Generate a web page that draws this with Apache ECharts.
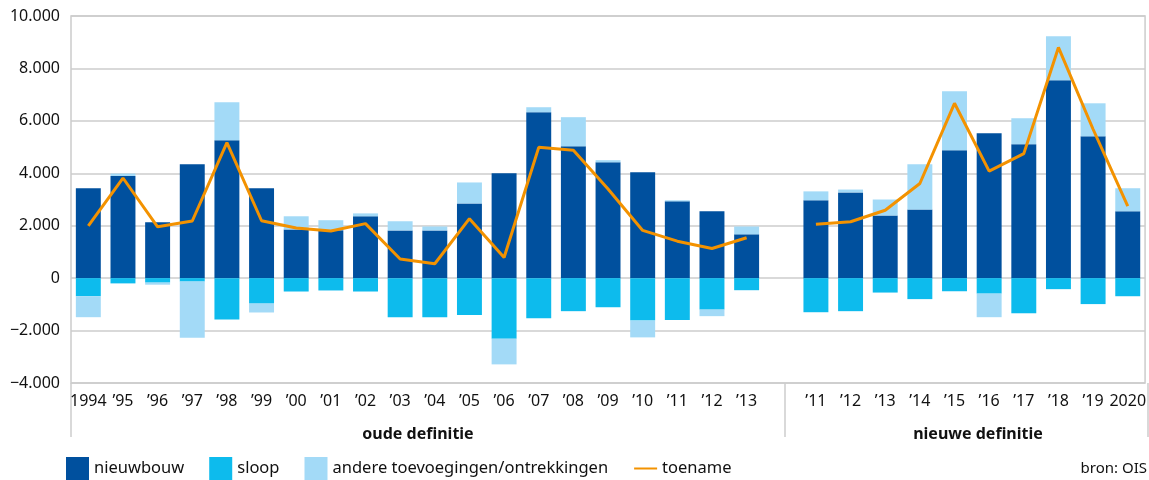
<!DOCTYPE html>
<html>
<head>
<meta charset="utf-8">
<script src="https://cdn.jsdelivr.net/npm/echarts@6/dist/echarts.min.js"></script>
<style>
  html, body { margin: 0; padding: 0; background: #fff; }
  #woningvoorraad { width: 1149px; height: 480px; }
</style>
</head>
<body>
<div id="woningvoorraad"></div>
<script>
  // jaren, met een lege categorie tussen oude en nieuwe definitie
  var jaren = ['1994', '’95', '’96', '’97', '’98', '’99', '’00', '’01', '’02', '’03', '’04', '’05', '’06', '’07', '’08', '’09', '’10', '’11', '’12', '’13',
    '',
    '’11', '’12', '’13', '’14', '’15', '’16', '’17', '’18', '’19', '2020']
  var nieuwbouw = [3430, 3900, 2130, 4340, 5260, 3430, 1860, 1830, 2360, 1820, 1820, 2850, 4000, 6330, 5030, 4420, 4040, 2930, 2550, 1670,
    null,
    2970, 3270, 2390, 2620, 4880, 5530, 5110, 7550, 5410, 2550]
  var sloop = [-690, -200, -170, -130, -1580, -970, -510, -470, -510, -1490, -1490, -1410, -2310, -1530, -1260, -1110, -1620, -1600, -1200, -460,
    null,
    -1300, -1260, -550, -800, -500, -590, -1340, -420, -990, -690]
  var andere = [-800, 90, -80, -2140, 1450, -340, 500, 380, 110, 350, 150, 800, -980, 190, 1110, 80, -640, 40, -250, 300,
    null,
    340, 110, 610, 1720, 2250, -900, 990, 1680, 1260, 880]
  var toename = [1990, 3820, 1960, 2180, 5170, 2190, 1910, 1800, 2080, 730, 550, 2270, 790, 4990, 4880, 3400, 1820, 1410, 1130, 1540,
    null,
    2060, 2150, 2590, 3610, 6670, 4080, 4750, 8800, 5680, 2750]

  var font = 'Noto Sans'
  var grijs = '#cccccc'

  function getal (v) {
    var s = String(Math.abs(v)).replace(/\B(?=(\d{3})+(?!\d))/g, '.')
    return v < 0 ? '−' + s : s
  }

  var chart = echarts.init(document.getElementById('woningvoorraad'))
  chart.setOption({
    animation: false,
    textStyle: { fontFamily: font },
    grid: {
      left: 71,
      right: 1,
      top: 16,
      bottom: 97,
      show: true,
      borderColor: grijs,
      borderWidth: 1.5
    },
    legend: {
      left: 66,
      bottom: 0,
      padding: 0,
      itemWidth: 23,
      itemHeight: 23,
      itemGap: 25,
      textStyle: { fontFamily: font, fontSize: 16.5, color: '#111' },
      data: [
        { name: 'nieuwbouw', icon: 'rect' },
        { name: 'sloop', icon: 'rect' },
        { name: 'andere toevoegingen/ontrekkingen', icon: 'rect' },
        { name: 'toename', itemStyle: { opacity: 0 } } // alleen het lijntje, geen bolletje
      ]
    },
    xAxis: {
      type: 'category',
      data: jaren,
      axisLine: { show: false },
      axisTick: { show: false },
      axisLabel: {
        interval: 0,
        margin: 10,
        fontSize: 16,
        color: '#111'
      }
    },
    yAxis: {
      type: 'value',
      min: -4000,
      max: 10000,
      interval: 2000,
      axisLine: { show: false },
      axisTick: { show: false },
      axisLabel: {
        margin: 11,
        fontSize: 16,
        color: '#111',
        formatter: getal
      },
      splitLine: {
        lineStyle: { color: grijs, width: 1.5 }
      }
    },
    series: [{
      name: 'nieuwbouw',
      type: 'bar',
      stack: 'mutatie',
      barCategoryGap: '28%',
      itemStyle: { color: '#00509e' },
      data: nieuwbouw
    }, {
      name: 'sloop',
      type: 'bar',
      stack: 'mutatie',
      itemStyle: { color: '#0dbbed' },
      data: sloop
    }, {
      name: 'andere toevoegingen/ontrekkingen',
      type: 'bar',
      stack: 'mutatie',
      itemStyle: { color: '#a3daf7' },
      data: andere
    }, {
      name: 'toename',
      type: 'line',
      symbol: 'none',
      connectNulls: false,
      z: 5,
      itemStyle: { color: '#f39200' },
      lineStyle: { color: '#f39200', width: 3 },
      data: toename
    }],
    graphic: [
      // scheidingslijnen onder de as
      { type: 'line', shape: { x1: 71, y1: 383, x2: 71, y2: 437 }, style: { stroke: grijs, lineWidth: 1.5 } },
      { type: 'line', shape: { x1: 785, y1: 383, x2: 785, y2: 437 }, style: { stroke: grijs, lineWidth: 1.5 } },
      { type: 'line', shape: { x1: 1148, y1: 383, x2: 1148, y2: 437 }, style: { stroke: grijs, lineWidth: 1.5 } },
      { type: 'text', x: 418, y: 434, style: { text: 'oude definitie', font: 'bold 16px ' + font, fill: '#111', align: 'center', verticalAlign: 'middle' } },
      { type: 'text', x: 978, y: 434, style: { text: 'nieuwe definitie', font: 'bold 16px ' + font, fill: '#111', align: 'center', verticalAlign: 'middle' } },
      { type: 'text', x: 1147, y: 469, style: { text: 'bron: OIS', font: '15px ' + font, fill: '#111', align: 'right', verticalAlign: 'middle' } }
    ]
  })
</script>
</body>
</html>
